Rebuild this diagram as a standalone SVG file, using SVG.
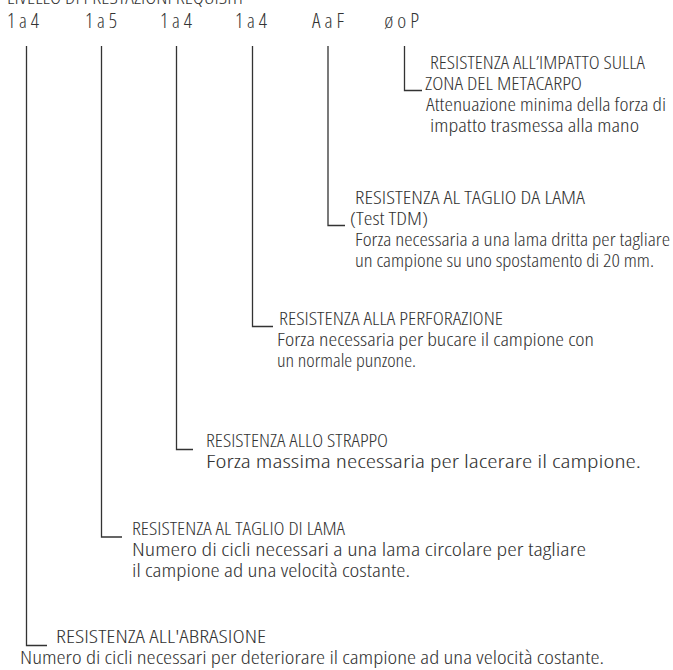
<svg xmlns="http://www.w3.org/2000/svg" width="673" height="670" viewBox="0 0 673 670">
<style>
text{font-family:"Open Sans","Liberation Sans",sans-serif;font-weight:300;font-stretch:condensed;font-size:18.5px;fill:#333}
.hd{font-size:20px}
.c{fill:none;stroke:#333;stroke-width:1.3}
</style>
<rect width="673" height="670" fill="#fff"/>
<g id="header">
<text x="7" y="4" textLength="236" lengthAdjust="spacingAndGlyphs">LIVELLO DI PRESTAZIONI REQUISITI</text>
<text class="hd" x="7" y="28" textLength="32" lengthAdjust="spacingAndGlyphs">1 a 4</text>
<text class="hd" x="85" y="28" textLength="32" lengthAdjust="spacingAndGlyphs">1 a 5</text>
<text class="hd" x="160" y="28" textLength="32" lengthAdjust="spacingAndGlyphs">1 a 4</text>
<text class="hd" x="235" y="28" textLength="32" lengthAdjust="spacingAndGlyphs">1 a 4</text>
<text class="hd" x="312" y="28" textLength="32" lengthAdjust="spacingAndGlyphs">A a F</text>
<text class="hd" x="384" y="28" textLength="35" lengthAdjust="spacingAndGlyphs">ø o P</text>
</g>
<g id="connectors">
<path class="c" d="M404.5,46 V90.5 H422"/>
<path class="c" d="M328,46 V225.5 H345" stroke="#555"/>
<path class="c" d="M252.5,46 V326.5 H273"/>
<path class="c" d="M176.5,46 V449.5 H193"/>
<path class="c" d="M101.5,46 V537 H122"/>
<path class="c" d="M26.5,46 V645.5 H47"/>
</g>
<g id="impatto">
<text x="430" y="69" textLength="215" lengthAdjust="spacingAndGlyphs">RESISTENZA ALL’IMPATTO SULLA</text>
<text x="425" y="90" textLength="157" lengthAdjust="spacingAndGlyphs">ZONA DEL METACARPO</text>
<text x="426" y="111" textLength="240" lengthAdjust="spacingAndGlyphs">Attenuazione minima della forza di</text>
<text x="430" y="132" textLength="209" lengthAdjust="spacingAndGlyphs">impatto trasmessa alla mano</text>
</g>
<g id="taglio-tdm">
<text x="355" y="204" textLength="230" lengthAdjust="spacingAndGlyphs">RESISTENZA AL TAGLIO DA LAMA</text>
<text x="350" y="225" textLength="78" lengthAdjust="spacingAndGlyphs">(Test TDM)</text>
<text x="355" y="246" textLength="315" lengthAdjust="spacingAndGlyphs">Forza necessaria a una lama dritta per tagliare</text>
<text x="355" y="267" textLength="299" lengthAdjust="spacingAndGlyphs">un campione su uno spostamento di 20 mm.</text>
</g>
<g id="perforazione">
<text x="279" y="325" textLength="224" lengthAdjust="spacingAndGlyphs">RESISTENZA ALLA PERFORAZIONE</text>
<text x="277" y="346" textLength="317" lengthAdjust="spacingAndGlyphs">Forza necessaria per bucare il campione con</text>
<text x="277" y="367" textLength="139" lengthAdjust="spacingAndGlyphs">un normale punzone.</text>
</g>
<g id="strappo">
<text x="206" y="447" textLength="182" lengthAdjust="spacingAndGlyphs">RESISTENZA ALLO STRAPPO</text>
<text x="206" y="468" textLength="435" lengthAdjust="spacingAndGlyphs">Forza massima necessaria per lacerare il campione.</text>
</g>
<g id="taglio-lama">
<text x="132" y="535" textLength="213" lengthAdjust="spacingAndGlyphs">RESISTENZA AL TAGLIO DI LAMA</text>
<text x="132" y="556" textLength="454" lengthAdjust="spacingAndGlyphs">Numero di cicli necessari a una lama circolare per tagliare</text>
<text x="132" y="577" textLength="278" lengthAdjust="spacingAndGlyphs">il campione ad una velocità costante.</text>
</g>
<g id="abrasione">
<text x="56" y="643" textLength="210" lengthAdjust="spacingAndGlyphs">RESISTENZA ALL'ABRASIONE</text>
<text x="20" y="664" textLength="584" lengthAdjust="spacingAndGlyphs">Numero di cicli necessari per deteriorare il campione ad una velocità costante.</text>
</g>
</svg>
